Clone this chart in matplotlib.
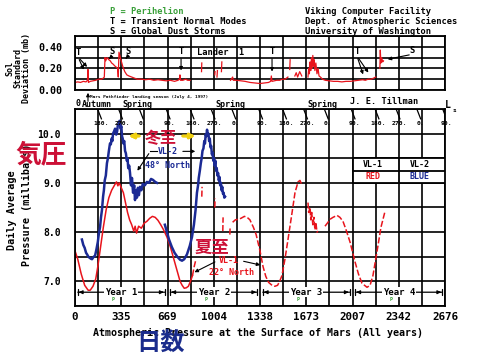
import numpy as np
import matplotlib.pyplot as plt

nan = np.nan

# ---- x axis (sols) ----
sol_ticks = [0, 335, 669, 1004, 1338, 1673, 2007, 2342, 2676]
year_edges = [0, 669, 1338, 2007, 2676]
year_names = ['Year 1', 'Year 2', 'Year 3', 'Year 4']
perihelion_sol = [277, 946, 1615, 2284]

# areocentric longitude marks
ls_sol = [166, 318, 468, 662, 835, 987, 1137, 1331, 1504, 1656, 1806, 2000, 2173, 2325, 2475, 2662]
ls_text = ['180.', '270.', '0.', '90.'] * 4
season_sol = [159, 448, 1121, 1786]
season_text = ['Autumn', 'Spring', 'Spring', 'Spring']

# ---- sol standard deviation, Lander 1 (mb) ----
sd_sol = [0, 20, 40, 60, 80, 90, 94, 97, 110, 130, 150, 170, 190, 205, 212, 217, 222, 232, 245,
          255, 265, 275, 290, 300, 308, 313, 318, 322, 332, 345, 360, 375, 390, 410, 430, 450,
          480, 510, 540, 570, 600, 630, 660, 690, 720, 745, 755, 759, 763, 780, 800, 815, 832,
          nan, 915, 917, nan, 1011, 1013, nan, 1027, 1030, nan, 1059, 1062, nan,
          1125, 1140, 1145, 1170, 1200, 1230, 1266, 1300, 1338, 1370, 1400, 1415, 1420, 1425,
          1440, 1458, 1480, 1500, 1520, 1540, nan, 1553, 1556, nan, 1590, 1600, 1610, 1625, 1640,
          nan, 1685, 1690, 1695, 1700, 1705, 1710, 1715, 1720, 1725, 1730, 1735, 1742, 1750,
          1758, 1765, 1775, 1790, 1810, 1840, 1870, 1900, 1930, 1960, 1990, 2020, 2050, 2080,
          2100, 2120, 2140, 2160, 2175, nan, 2205, 2208, 2212, 2218, 2225, 2231]
sd_val = [0.07, 0.075, 0.07, 0.08, 0.075, 0.09, 0.19, 0.07, 0.08, 0.085, 0.09, 0.10, 0.10, 0.11,
          0.12, 0.30, 0.27, 0.30, 0.28, 0.27, 0.25, 0.24, 0.22, 0.21, 0.20, 0.12, 0.35, 0.33,
          0.28, 0.22, 0.17, 0.14, 0.13, 0.12, 0.11, 0.10, 0.10, 0.095, 0.10, 0.09, 0.095, 0.09,
          0.085, 0.09, 0.08, 0.09, 0.10, 0.14, 0.09, 0.09, 0.10, 0.09, 0.09,
          nan, 0.17, 0.25, nan, 0.14, 0.17, nan, 0.12, 0.18, nan, 0.17, 0.26, nan,
          0.09, 0.12, 0.09, 0.09, 0.085, 0.08, 0.07, 0.065, 0.06, 0.065, 0.07, 0.08, 0.13, 0.08,
          0.085, 0.09, 0.09, 0.10, 0.10, 0.12, nan, 0.19, 0.28, nan, 0.13, 0.16, 0.12, 0.17, 0.13,
          nan, 0.12, 0.20, 0.15, 0.26, 0.18, 0.30, 0.20, 0.32, 0.22, 0.28, 0.18, 0.25, 0.15,
          0.20, 0.13, 0.12, 0.10, 0.09, 0.085, 0.08, 0.08, 0.075, 0.08, 0.08, 0.085, 0.09, 0.095,
          0.09, 0.10, 0.10, 0.11, 0.12, nan, 0.20, 0.37, 0.25, 0.30, 0.26, 0.27]

# ---- daily average pressure, VL-1 (22 N) ----
vl1_sol_a = [0, 20, 45, 70, 95, 110, 130, 150, 165, 185, 205, 225, 245, 265, 285, 300, 310, 320,
             335, 350, 365, 380, 395, 410, 425, 435, 445, 460, 480, 500, 520, 540, 560, 580, 600,
             620, 640, 665, 690, 710, 735, 760, 775, 790, 805, 820, 835, 850]
vl1_p_a = [7.62, 7.45, 7.15, 6.92, 6.82, 6.82, 6.90, 7.05, 7.30, 7.70, 8.10, 8.45, 8.70, 8.85,
           8.95, 9.02, 8.94, 9.0, 8.90, 8.80, 8.60, 8.40, 8.25, 8.15, 8.02, 8.12, 7.98, 8.12, 8.08,
           8.18, 8.22, 8.28, 8.32, 8.30, 8.24, 8.15, 8.05, 7.90, 7.70, 7.50, 7.25, 7.00, 6.92,
           6.86, 6.87, 6.90, 7.00, 7.12]
vl1_sol_b = [850, 862, 875, nan, 917, 919, nan, 1011, 1013, nan, 1069, 1071, nan, 1120, 1122, nan,
             1140, 1160, 1180, 1200, 1225, 1245, 1265, 1290, 1310, 1338, 1360, 1380, 1400, 1425,
             1445, 1465, 1480, 1497, 1519, 1541, 1570, 1591, 1613, 1627, 1642, nan, 1685, 1690,
             1700, 1705, 1712, 1720, 1728, 1735, 1742, 1750, 1757, nan, 1808, 1830, 1844, 1866,
             1895, 1916, 1938, 1960, 1989, 2025, 2050, 2076, 2112, 2134, 2155, 2191, 2213, 2242]
vl1_p_b = [7.12, 7.30, 7.45, nan, 8.72, 8.92, nan, 8.50, 8.68, nan, 8.02, 8.30, nan, 7.95, 8.12, nan,
           8.20, 8.25, 8.26, 8.28, 8.32, 8.30, 8.25, 8.10, 7.95, 7.62, 7.30, 7.10, 6.98, 6.92,
           6.90, 6.92, 7.00, 7.12, 7.46, 7.86, 8.40, 8.80, 9.02, 9.05, 8.95, nan, 8.60, 8.40,
           8.50, 8.25, 8.40, 8.15, 8.30, 8.05, 8.20, 8.00, 8.02, nan, 8.12, 8.20, 8.26, 8.30,
           8.34, 8.30, 8.22, 8.05, 7.80, 7.40, 7.15, 6.96, 6.88, 6.92, 7.12, 7.72, 8.10, 8.42]

# ---- daily average pressure, VL-2 (48 N) ----
vl2_sol = [50, 60, 70, 80, 87, 97, 105, 115, 123, 135, 145, 155, 165, 173, 181, 188, 195, 203,
           209, 215, 223, 231, 238, 245, 253, 259, 265, 270, 275, 283, 290, 298, 305, 310, 315,
           322, 330, 335, 340, 345, 350, 356, 362, 368, 375, 380, 385, 392, 398, 405, 412, 420,
           428, 434, 440, 448, 455, 462, 470, 480, 490, 505, 520, 535, 550, 564, 580, 593, nan,
           650, 665, 680, 700, 720, 740, 760, 774, 790, 810, 830, 846, 860, 872, 882, 890, 895,
           903, 910, 916, 922, 929, 935, 940, 945, 950, 955, 960, 965, 970, 975, 980, 985, 990,
           995, 1000, 1005, 1010, 1015, 1020, 1025, 1030, 1035, 1040, 1045, 1050, 1055, 1060,
           1065, 1070, 1075, 1080, 1085]
vl2_p = [7.85, 7.74, 7.68, 7.58, 7.55, 7.50, 7.48, 7.46, 7.45, 7.50, 7.52, 7.65, 7.80, 7.98, 8.10,
         8.30, 8.45, 8.72, 8.85, 9.05, 9.15, 9.40, 9.50, 9.65, 9.80, 9.78, 9.90, 9.85, 10.0,
         10.05, 10.10, 9.98, 10.05, 10.18, 10.20, 10.26, 10.10, 10.15, 9.95, 9.90, 9.80, 9.85,
         9.65, 9.60, 9.45, 9.50, 9.30, 9.35, 9.20, 8.95, 9.10, 8.80, 8.95, 8.65, 8.85, 8.70,
         8.90, 8.75, 8.92, 8.85, 8.98, 8.95, 9.02, 9.00, 9.08, 9.06, 9.02, 9.00, nan,
         8.15, 8.00, 7.85, 7.70, 7.58, 7.50, 7.44, 7.42, 7.45, 7.55, 7.72, 7.90, 8.15, 8.45,
         8.80, 8.95, 9.10, 9.25, 9.40, 9.50, 9.65, 9.70, 9.85, 9.80, 9.98, 9.95, 10.08, 9.98,
         10.00, 9.85, 9.90, 9.72, 9.75, 9.58, 9.62, 9.45, 9.50, 9.35, 9.45, 9.25, 9.30, 9.15,
         9.20, 9.05, 9.12, 8.95, 9.00, 8.85, 8.92, 8.78, 8.80, 8.70, 8.72]

red = '#e8141c'
blue = '#1b2a94'
jp_red = '#cc1036'

plt.rcParams['font.family'] = ['DejaVu Sans Mono', 'Noto Sans CJK JP']
plt.rcParams['font.weight'] = 'bold'

fig = plt.figure(figsize=(4.8, 3.6), dpi=100)
W, H = 480.0, 360.0


def fpx(x, y):
    return x / W, 1 - y / H


grid_x = np.arange(0, 2677, 167.25)

# ---------- top panel ----------
ax_sd = fig.add_axes([75 / W, 1 - 90 / H, 370 / W, 54 / H])
ax_sd.set_xlim(0, 2676)
ax_sd.set_ylim(0, 0.5)
ax_sd.set_xticks(grid_x)
ax_sd.set_yticks([0, 0.1, 0.2, 0.3, 0.4, 0.5])
ax_sd.set_yticklabels(['0.00', '', '0.20', '', '0.40', ''], fontsize=7.2)
ax_sd.tick_params(length=0, labelbottom=False, pad=9)
ax_sd.grid(color='k', lw=1.2)
for s in ax_sd.spines.values():
    s.set_linewidth(1.3)
ax_sd.plot(sd_sol, sd_val, color=red, lw=0.9)

arw = dict(arrowstyle='-|>', color='k', lw=0.8, mutation_scale=5)
ax_sd.text(1056, 0.345, 'Lander  1', fontsize=6.3, ha='center', va='center')
for lab, tx, ty, pts in [('T', 22, 0.345, [(72, 0.165), (101, 0.195)]),
                         ('S', 268, 0.355, [(231, 0.27)]),
                         ('S', 383, 0.355, [(354, 0.27)]),
                         ('T', 767, 0.355, [(767, 0.155)]),
                         ('T', 1425, 0.355, [(1425, 0.145)]),
                         ('T', 2039, 0.355, [(2090, 0.12), (2133, 0.14)]),
                         ('S', 2437, 0.37, [(2242, 0.28)])]:
    ax_sd.text(tx, ty, lab, fontsize=6.3, ha='center', va='center')
    for px, py in pts:
        ax_sd.annotate('', xy=(px, py), xytext=(tx, ty - 0.04), arrowprops=arw)
ax_sd.annotate('', xy=(94, 0.0), xytext=(94, -0.13), arrowprops=arw, annotation_clip=False)

# ---------- main panel ----------
ax = fig.add_axes([75 / W, 1 - 306 / H, 370 / W, 197 / H])
ax.set_xlim(0, 2676)
ax.set_ylim(6.54, 10.48)
ax.set_xticks(grid_x)
ax.set_xticklabels([str(v) if i % 2 == 0 else '' for i, v in
                    zip(range(len(grid_x)), [t for t in sol_ticks for _ in (0, 1)])],
                   fontsize=7.8)
ax.set_yticks(np.arange(6.5, 10.51, 0.5))
ax.set_yticklabels(['' if v % 1 else '%.1f' % v for v in np.arange(6.5, 10.51, 0.5)], fontsize=7)
ax.tick_params(length=0, pad=10)
ax.tick_params(axis='x', pad=4)
ax.grid(color='k', lw=1.2)
for s in ax.spines.values():
    s.set_linewidth(1.3)

ax.plot(vl1_sol_a, vl1_p_a, color=red, lw=1.1)
ax.plot(vl1_sol_b, vl1_p_b, color=red, lw=1.1, dashes=(4, 1.5))
ax.plot(vl2_sol, vl2_p, color=blue, lw=1.8)

# Ls ticks along the top
for s, t in zip(ls_sol, ls_text):
    ax.plot([s, s + 25], [10.48, 10.30], color='k', lw=0.9)
    ax.text(s + 22, 10.2, t, fontsize=4.6, ha='center', va='center')
ax.text(2697, 10.58, 'L', fontsize=7, ha='center', va='center', clip_on=False)
ax.text(2745, 10.47, 's', fontsize=4.5, ha='center', va='center', clip_on=False)

# seasons and notes above
ax.text(25, 10.62, '0', fontsize=6, ha='center', va='center', clip_on=False)
for s, t in zip(season_sol, season_text):
    ax.text(s, 10.6, t, fontsize=6, ha='center', va='center', clip_on=False)
ax.text(2235, 10.66, 'J. E. Tillman', fontsize=6.2, ha='center', va='center', clip_on=False)
ax.text(108, 10.74, 'Mars Pathfinder landing season (July 4, 1997)', fontsize=3.2,
        ha='left', va='center', clip_on=False)

# year row
yr_y = 6.78
for a, b, name in zip(year_edges[:-1], year_edges[1:], year_names):
    ax.annotate('', xy=(a, yr_y), xytext=(b, yr_y),
                arrowprops=dict(arrowstyle='|-|', color='k', lw=0.9, mutation_scale=2))
    ax.annotate('', xy=(a + 8, yr_y), xytext=(a + 60, yr_y),
                arrowprops=dict(arrowstyle='-|>', color='k', lw=0.9, mutation_scale=5))
    ax.annotate('', xy=(b - 8, yr_y), xytext=(b - 60, yr_y),
                arrowprops=dict(arrowstyle='-|>', color='k', lw=0.9, mutation_scale=5))
    ax.text((a + b) / 2, yr_y, name, fontsize=6.5, ha='center', va='center',
            bbox=dict(fc='white', ec='none', pad=0.5))
for p in perihelion_sol:
    ax.text(p, 6.64, 'P', fontsize=3.5, color='#3aa03a', ha='center', va='center')

# curve labels
ax.text(672, 9.64, 'VL-2', fontsize=6, color=blue, ha='center', va='center')
ax.text(672, 9.36, '48° North', fontsize=6, color=blue, ha='center', va='center')
ax.plot([590, 545], [9.64, 9.64], color='k', lw=0.8)
ax.annotate('', xy=(440, 9.2), xytext=(545, 9.64), arrowprops=arw)
ax.annotate('', xy=(890, 9.64), xytext=(760, 9.64), arrowprops=arw)
ax.text(1114, 7.42, 'VL-1', fontsize=6, color=red, ha='center', va='center')
ax.text(1135, 7.18, '22° North', fontsize=6, color=red, ha='center', va='center')
ax.annotate('', xy=(846, 7.16), xytext=(1030, 7.42), arrowprops=arw)
ax.annotate('', xy=(1360, 7.32), xytext=(1200, 7.42), arrowprops=arw)

# legend table
ax.add_patch(plt.Rectangle((2007, 9.0), 669, 0.5, fc='white', ec='k', lw=1.3, zorder=3))
ax.plot([2007, 2676], [9.25, 9.25], color='k', lw=1.3, zorder=4)
ax.plot([2342, 2342], [9.0, 9.5], color='k', lw=1.3, zorder=4)
ax.text(2155, 9.38, 'VL-1', fontsize=6, ha='center', va='center', zorder=5)
ax.text(2495, 9.38, 'VL-2', fontsize=6, ha='center', va='center', zorder=5)
ax.text(2155, 9.12, 'RED', fontsize=6, color=red, ha='center', va='center', zorder=5)
ax.text(2495, 9.12, 'BLUE', fontsize=6, color=blue, ha='center', va='center', zorder=5)

# ---------- figure texts ----------
fig.text(*fpx(110, 11), 'P = Perihelion', fontsize=6.3, color='#3aa03a', va='center')
fig.text(*fpx(110, 21), 'T = Transient Normal Modes', fontsize=6.3, va='center')
fig.text(*fpx(110, 31), 'S = Global Dust Storms', fontsize=6.3, va='center')
fig.text(*fpx(305, 11), 'Viking Computer Facility', fontsize=6.3, va='center')
fig.text(*fpx(305, 21), 'Dept. of Atmospheric Sciences', fontsize=6.3, va='center')
fig.text(*fpx(305, 31), 'University of Washington', fontsize=6.3, va='center')

fig.text(*fpx(10, 68), 'Sol', fontsize=6, rotation=90, ha='center', va='center')
fig.text(*fpx(18, 68), 'Standard', fontsize=6, rotation=90, ha='center', va='center')
fig.text(*fpx(27, 68), 'Deviation (mb)', fontsize=6, rotation=90, ha='center', va='center')
fig.text(*fpx(12, 210), 'Daily Average', fontsize=7.3, rotation=90, ha='center', va='center')
fig.text(*fpx(27, 205), 'Pressure (millibars)', fontsize=7.3, rotation=90, ha='center', va='center')
fig.text(*fpx(258, 333), 'Atmospheric Pressure at the Surface of Mars (All years)',
         fontsize=7.2, ha='center', va='center')

jp = ['Noto Sans CJK JP']
fig.text(*fpx(41, 155), '気圧', fontsize=18.5, color=jp_red, family=jp, ha='center', va='center')
fig.text(*fpx(161, 138), '冬至', fontsize=11.5, color=jp_red, family=jp, ha='center', va='center')
fig.text(*fpx(212, 248), '夏至', fontsize=12.5, color=jp_red, family=jp, ha='center', va='center')
fig.text(*fpx(161, 343), '日数', fontsize=17.5, color='#1a2c8c', family=jp, ha='center', va='center')
yarw = dict(arrowstyle='-|>', color='#f0d010', lw=2, mutation_scale=7)
fig.add_artist(plt.annotate('', xy=fpx(126, 136), xytext=fpx(142, 136), xycoords='figure fraction',
                            arrowprops=yarw))
fig.add_artist(plt.annotate('', xy=fpx(198, 136), xytext=fpx(180, 136), xycoords='figure fraction',
                            arrowprops=yarw))

fig.savefig('out.png', dpi=100, facecolor='white')
